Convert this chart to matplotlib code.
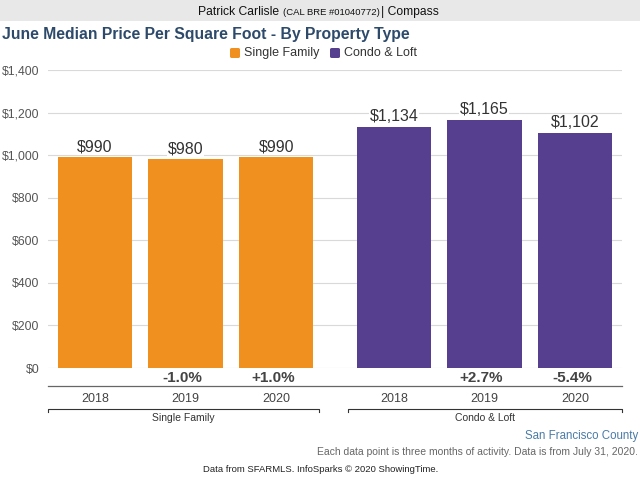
import matplotlib.pyplot as plt
from matplotlib.patches import Rectangle, FancyBboxPatch

plt.rcParams['font.family'] = ['Liberation Sans', 'DejaVu Sans']

# data
groups = ['Single Family', 'Condo & Loft']
years = ['2018', '2019', '2020']
single_family = [990, 980, 990]
condo_loft = [1134, 1165, 1102]
sf_change = ['', '-1.0%', '+1.0%']
cl_change = ['', '+2.7%', '-5.4%']
y_ticks = [0, 200, 400, 600, 800, 1000, 1200, 1400]

orange = '#F0901F'
purple = '#553F8E'
W, H = 640, 480

fig = plt.figure(figsize=(6.4, 4.8), dpi=100)
fig.patch.set_facecolor('white')

def fx(px):
    return px / W

def fy(py):
    return 1 - py / H

# header band
fig.patches.append(Rectangle((0, fy(21)), 1, 21 / H, transform=fig.transFigure,
                             facecolor='#e8e8e8', edgecolor='none', zorder=0))
fig.text(fx(198), fy(12), 'Patrick Carlisle', fontsize=8.7, ha='left', va='center', color='#111')
fig.text(fx(283), fy(12.5), '(CAL BRE #01040772)', fontsize=6.8, ha='left', va='center', color='#111')
fig.text(fx(381), fy(12), '| Compass', fontsize=8.7, ha='left', va='center', color='#111')

fig.text(fx(2), fy(35), 'June Median Price Per Square Foot - By Property Type',
         fontsize=11.3, fontweight='bold', color='#2d4a6b', ha='left', va='center')

# legend
for px, lbl, c in [(230, 'Single Family', orange), (330, 'Condo & Loft', purple)]:
    fig.patches.append(FancyBboxPatch((fx(px), fy(58)), 10 / W, 10 / H,
                                      boxstyle='round,pad=0,rounding_size=0.003',
                                      transform=fig.transFigure, facecolor=c, edgecolor='none'))
    fig.text(fx(px + 14), fy(53), lbl, fontsize=9, color='#333', ha='left', va='center')

ax = fig.add_axes([fx(48), fy(368), fx(622) - fx(48), fy(70) - fy(368)])
pos = [0, 1, 2, 3.3, 4.3, 5.3]
vals = single_family + condo_loft
cols = [orange] * 3 + [purple] * 3
ax.bar(pos, vals, width=0.82, color=cols, zorder=2)
for p, v in zip(pos, vals):
    ax.text(p, v + 14, f'${v:,}', ha='center', va='bottom', fontsize=11.5, color='#333',
            zorder=3, bbox=dict(facecolor='white', edgecolor='none', pad=0.5))

ax.set_xlim(-0.52, 5.82)
ax.set_ylim(0, 1400)
ax.set_yticks(y_ticks)
ax.set_yticklabels([f'${t:,}' for t in y_ticks], fontsize=8.8, color='#555')
ax.yaxis.grid(True, color='#d9d9d9', linewidth=0.8, zorder=0)
ax.tick_params(axis='y', length=0, pad=6)
ax.set_xticks([])
for s in ax.spines.values():
    s.set_visible(False)

# change row and year labels
for p, ch, yr in zip(pos, sf_change + cl_change, years + years):
    x = ax.transData.transform((p, 0))[0] / W
    if ch:
        fig.text(x - 3 / W, fy(378), ch, ha='center', va='center', fontsize=11,
                 fontweight='bold', color='#444')
    fig.text(x, fy(399), yr, ha='center', va='center', fontsize=9, color='#444')

fig.add_artist(plt.Line2D([fx(48), fx(622)], [fy(386), fy(386)], color='#666', lw=0.9))

# group brackets
for (x0, x1), g in zip([(48, 319), (348, 622)], groups):
    fig.add_artist(plt.Line2D([fx(x0), fx(x0), fx(x1), fx(x1)],
                              [fy(412), fy(409), fy(409), fy(412)], color='#333', lw=0.8))
    fig.text(fx((x0 + x1) / 2), fy(418), g, ha='center', va='center', fontsize=7.5, color='#333')

fig.text(fx(638), fy(436), 'San Francisco County', ha='right', va='center',
         fontsize=8.3, color='#4a7ba6')
fig.text(fx(638), fy(452), 'Each data point is three months of activity. Data is from July 31, 2020.',
         ha='right', va='center', fontsize=7.5, color='#666')
fig.text(fx(321), fy(469), 'Data from SFARMLS. InfoSparks \u00a9 2020 ShowingTime.',
         ha='center', va='center', fontsize=6.8, color='#222')

fig.savefig('out.png', dpi=100)
